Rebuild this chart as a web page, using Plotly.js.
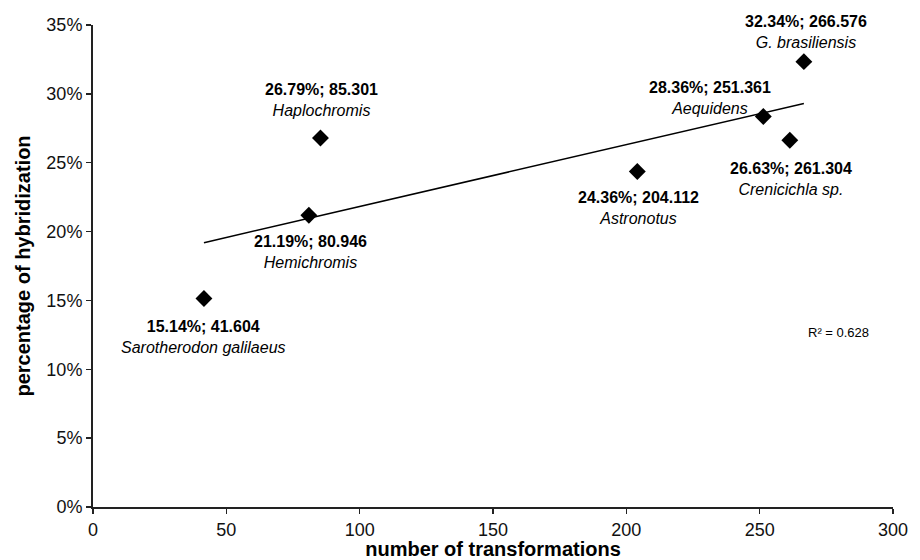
<!DOCTYPE html>
<html>
<head>
<meta charset="utf-8">
<script src="https://cdn.plot.ly/plotly-3.0.1.min.js"></script>
<style>
html,body{margin:0;padding:0;background:#fff;}
#chart{width:920px;height:560px;}
</style>
</head>
<body>
<div id="chart"></div>
<script>
// Data
const species = ["Sarotherodon galilaeus", "Hemichromis", "Haplochromis", "Astronotus", "Aequidens", "Crenicichla sp.", "G. brasiliensis"];
const transformations = [41.604, 80.946, 85.301, 204.112, 251.361, 261.304, 266.576];
const hybridization = [15.14, 21.19, 26.79, 24.36, 28.36, 26.63, 32.34];
const rSquaredText = "R² = 0.628";
const xTickValues = [0, 50, 100, 150, 200, 250, 300];
const yTickValues = [0, 5, 10, 15, 20, 25, 30, 35];

// Label offsets (pixels) relative to each point
const labelShiftX = [0, 2, 1, 1, -53, 1, 2];
const labelShiftY = [-38, -37, 38, -36, 18, -39, 30];

// Least-squares trendline
const n = transformations.length;
const mx = transformations.reduce((a, b) => a + b, 0) / n;
const my = hybridization.reduce((a, b) => a + b, 0) / n;
let sxy = 0, sxx = 0;
for (let i = 0; i < n; i++) {
  sxy += (transformations[i] - mx) * (hybridization[i] - my);
  sxx += (transformations[i] - mx) ** 2;
}
const slope = sxy / sxx;
const intercept = my - slope * mx;
const xMin = Math.min(...transformations), xMax = Math.max(...transformations);
const trendX = [xMin, xMax];
const trendY = trendX.map(x => intercept + slope * x);

const traces = [
  {
    x: trendX, y: trendY, type: "scatter", mode: "lines",
    line: {color: "#000", width: 1.5}, hoverinfo: "skip", showlegend: false
  },
  {
    x: transformations, y: hybridization, type: "scatter", mode: "markers",
    marker: {symbol: "diamond", size: 13, color: "#000"}, showlegend: false
  }
];

const annotations = species.map((s, i) => ({
  x: transformations[i], y: hybridization[i], xref: "x", yref: "y",
  text: "<b>" + hybridization[i].toFixed(2) + "%; " + transformations[i].toFixed(3) + "</b><br><i>" + s + "</i>",
  showarrow: false, xshift: labelShiftX[i], yshift: labelShiftY[i],
  font: {family: "Liberation Sans, Arial, sans-serif", size: 16, color: "#000"},
  align: "center", xanchor: "center", yanchor: "middle"
}));
annotations.push({
  x: 0.932, y: 0.362, xref: "paper", yref: "paper",
  text: rSquaredText, showarrow: false, xanchor: "center", yanchor: "middle",
  font: {family: "Liberation Sans, Arial, sans-serif", size: 13, color: "#000"}
});

const layout = {
  width: 920, height: 560,
  margin: {l: 93, r: 27, t: 25, b: 53},
  paper_bgcolor: "#fff", plot_bgcolor: "#fff",
  font: {family: "Liberation Sans, Arial, sans-serif", color: "#000"},
  xaxis: {
    range: [0, 300], tickvals: xTickValues, ticktext: xTickValues.map(String),
    showgrid: false, zeroline: false, showline: true, linecolor: "#222", linewidth: 2,
    ticks: "outside", ticklen: 5, tickwidth: 1.5, tickcolor: "#222",
    tickfont: {size: 18, color: "#111"},
    title: {text: "<b>number of transformations</b>", font: {size: 20, color: "#000"}, standoff: 3}
  },
  yaxis: {
    range: [0, 35], tickvals: yTickValues, ticktext: yTickValues.map(v => v + "%"),
    showgrid: false, zeroline: false, showline: true, linecolor: "#222", linewidth: 2,
    ticks: "outside", ticklen: 5, tickwidth: 1.5, tickcolor: "#222",
    tickfont: {size: 18, color: "#111"},
    title: {text: "<b>percentage of hybridization</b>", font: {size: 20, color: "#000"}, standoff: 10}
  },
  annotations: annotations
};

Plotly.newPlot("chart", traces, layout, {displayModeBar: false, staticPlot: true});
</script>
</body>
</html>
